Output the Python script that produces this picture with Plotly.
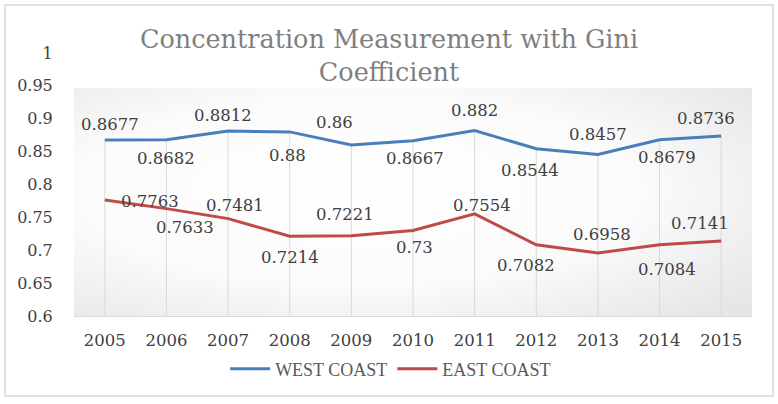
import base64
import plotly.graph_objects as go

# ---------------- data ----------------
years = [2005, 2006, 2007, 2008, 2009, 2010, 2011, 2012, 2013, 2014, 2015]
west_coast = [0.8677, 0.8682, 0.8812, 0.88, 0.86, 0.8667, 0.882, 0.8544, 0.8457, 0.8679, 0.8736]
east_coast = [0.7763, 0.7633, 0.7481, 0.7214, 0.7221, 0.73, 0.7554, 0.7082, 0.6958, 0.7084, 0.7141]
y_tick_values = [0.6, 0.65, 0.7, 0.75, 0.8, 0.85, 0.9, 0.95, 1.0]
y_tick_labels = ["0.6", "0.65", "0.7", "0.75", "0.8", "0.85", "0.9", "0.95", "1"]
x_tick_labels = [str(y) for y in years]
series_names = ["WEST COAST", "EAST COAST"]
title_text = "Concentration Measurement with Gini<br>Coefficient"

# ---------------- label placement (pixel offsets, style only) ----------------
west_dx = [5, 0, -5, -2, -17, 2, 0, -6, 0, 7, -15]
west_dy = [-15, 19, -16, 24, -23, 18, -20, 22, -20, 18, -18]
east_dx = [45, 19, 7, 0, -6, 1, 7, -10, 4, 7, -21]
east_dy = [1, 19, -13, 21, -21, 17, -8, 21, -19, 25, -17]

Y_MIN, Y_MAX = 0.6, 1.0
BLUE = "#4A7EBB"
RED = "#BE4B48"
GRID = "#D9D9D9"
TXT = "#404040"
SERIF = "DejaVu Serif"

fig = go.Figure()

# drop lines from the upper series down to the axis
fig.add_trace(go.Scatter(
    x=years, y=west_coast, mode="markers",
    marker=dict(size=1, opacity=0),
    error_y=dict(type="data", symmetric=False,
                 array=[0] * len(west_coast),
                 arrayminus=[v - Y_MIN for v in west_coast],
                 color=GRID, thickness=1, width=0),
    showlegend=False, hoverinfo="skip"))

fig.add_trace(go.Scatter(x=years, y=west_coast, mode="lines", name=series_names[0],
                         line=dict(color=BLUE, width=3)))
fig.add_trace(go.Scatter(x=years, y=east_coast, mode="lines", name=series_names[1],
                         line=dict(color=RED, width=3)))

annotations = []
for vals, dxs, dys in ((west_coast, west_dx, west_dy), (east_coast, east_dx, east_dy)):
    for x, v, dx, dy in zip(years, vals, dxs, dys):
        annotations.append(dict(x=x, y=v, xref="x", yref="y", text=f"{v:g}",
                                showarrow=False, xshift=dx, yshift=-dy,
                                xanchor="center", yanchor="middle",
                                font=dict(family=SERIF, size=16.5, color=TXT)))

# plot-area background gradient (Excel-like)
svg = ('<svg xmlns="http://www.w3.org/2000/svg" width="200" height="100" preserveAspectRatio="none">'
       '<defs><radialGradient id="g" cx="0.42" cy="0.45" r="0.75">'
       '<stop offset="0" stop-color="#ffffff"/><stop offset="0.55" stop-color="#fbfbfb"/>'
       '<stop offset="1" stop-color="#e6e6e6"/></radialGradient></defs>'
       '<rect width="200" height="100" fill="url(#g)"/></svg>')
src = "data:image/svg+xml;base64," + base64.b64encode(svg.encode()).decode()
bg_top = (316 - 88) / 263

fig.update_layout(
    width=778, height=404,
    margin=dict(l=74, r=26, t=53, b=88),
    paper_bgcolor="white", plot_bgcolor="rgba(0,0,0,0)",
    title=dict(text=title_text, x=0.5, xref="container", xanchor="center",
               y=1 - 48 / 404, yref="container", yanchor="middle",
               font=dict(family=SERIF, size=25.5, color="#7F7F7F")),
    xaxis=dict(range=[years[0] - 0.5, years[-1] + 0.5], tickvals=years, ticktext=x_tick_labels,
               showgrid=False, zeroline=False, showline=True, linecolor=GRID, linewidth=1,
               ticks="outside", ticklen=9, tickcolor="rgba(0,0,0,0)",
               tickfont=dict(family=SERIF, size=16.5, color=TXT)),
    yaxis=dict(range=[Y_MIN, Y_MAX], tickvals=y_tick_values, ticktext=y_tick_labels,
               showgrid=False, zeroline=False, showline=False,
               ticks="outside", ticklen=17, tickcolor="rgba(0,0,0,0)",
               tickfont=dict(family=SERIF, size=16, color=TXT)),
    legend=dict(orientation="h", x=0.467, xanchor="center", y=-0.2015, yanchor="middle",
                font=dict(family="Liberation Serif", size=18, color="#595959"),
                bgcolor="rgba(0,0,0,0)", itemwidth=40),
    annotations=annotations,
    images=[dict(source=src, xref="paper", yref="paper", x=0, y=bg_top,
                 sizex=1, sizey=bg_top, sizing="stretch", layer="below",
                 xanchor="left", yanchor="top")],
    shapes=[dict(type="rect", xref="paper", yref="paper",
                 x0=(5 - 74) / 678, x1=(773 - 74) / 678,
                 y0=(316 - 396) / 263, y1=(316 - 5) / 263,
                 line=dict(color=GRID, width=1.5), fillcolor="rgba(0,0,0,0)", layer="below")],
    hovermode=False,
)

fig.write_html("out.html")
